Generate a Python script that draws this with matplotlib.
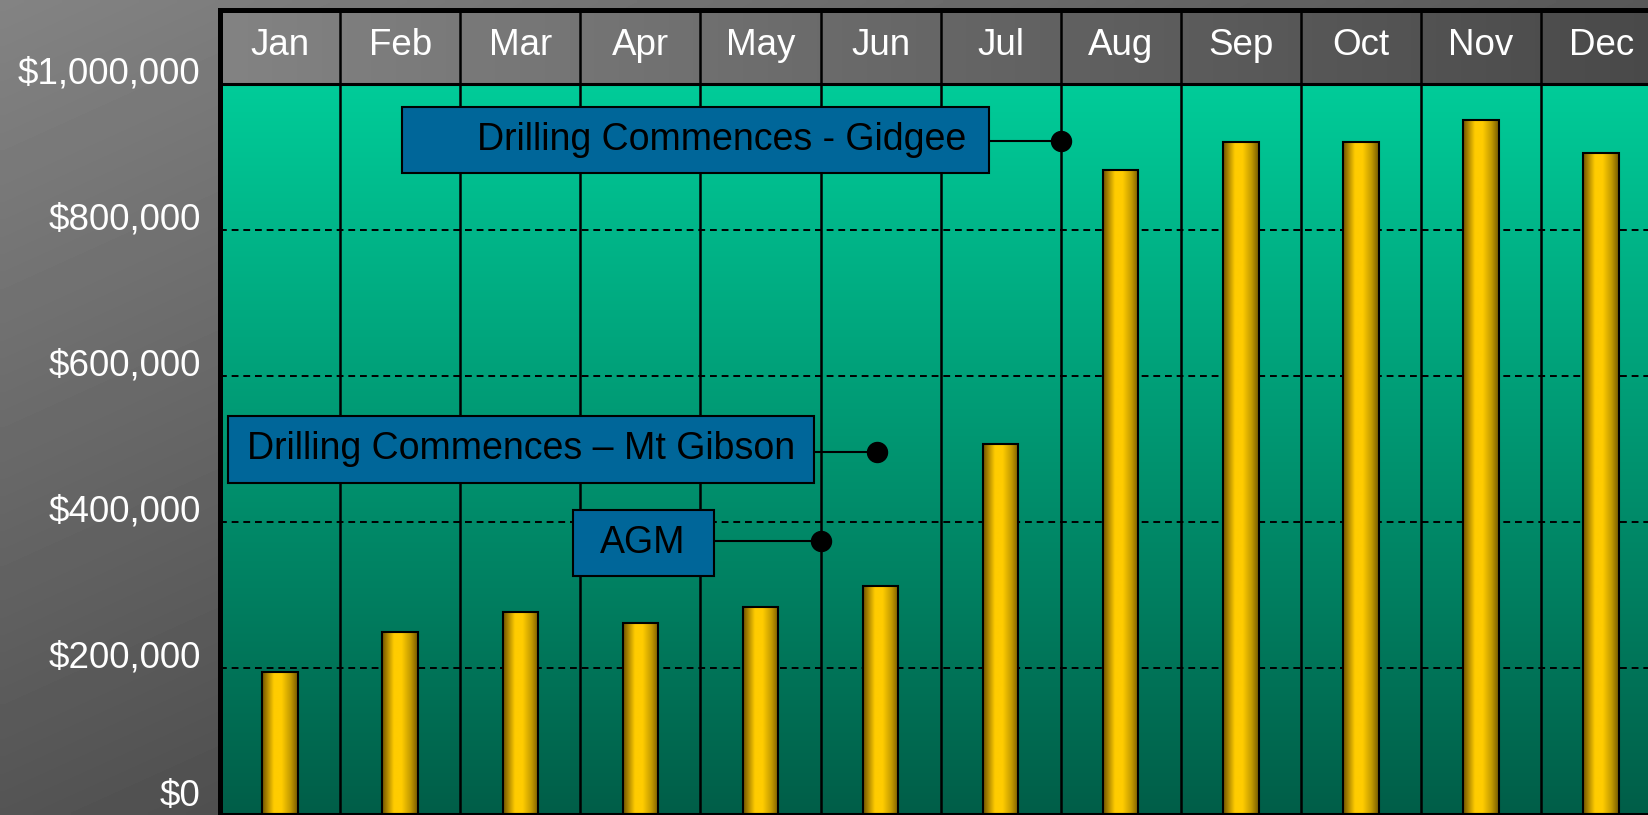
import numpy as np
import matplotlib.pyplot as plt
from matplotlib.colors import LinearSegmentedColormap
from matplotlib.patches import Rectangle

plt.rcParams['font.family'] = ['Liberation Sans', 'DejaVu Sans']

# data
months = ['Jan', 'Feb', 'Mar', 'Apr', 'May', 'Jun', 'Jul', 'Aug', 'Sep', 'Oct', 'Nov', 'Dec']
spend = [194500, 249000, 277000, 262000, 284000, 313000, 507500, 882000, 921000, 921000, 951000, 906000]
ytick_values = [0, 200000, 400000, 600000, 800000, 1000000]
ytick_labels = ['$0', '$200,000', '$400,000', '$600,000', '$800,000', '$1,000,000']

# milestones: label, position on month axis, value
event_labels = ['Drilling Commences - Gidgee', 'Drilling Commences \u2013 Mt Gibson', 'AGM']
event_x = [7.0, 5.47, 5.0]
event_y = [922000, 496000, 374000]

# callout box layout (x0, x1, y0, y1) and text x
box_geom = [(1.519, 6.399, 877400, 968500), (0.067, 4.947, 454100, 545200), (2.937, 4.117, 326000, 416800)]
text_x = [4.18, 2.505, 3.52]

fig = plt.figure(figsize=(16.48, 8.15), dpi=100)

# grey slide background
bg = fig.add_axes([0, 0, 1, 1], zorder=-10)
bg.axis('off')
yy, xx = np.mgrid[0:815:5, 0:1648:8]
val = (131 - 0.026 * xx - 0.0575 * yy) / 255.0
bg.imshow(val, cmap='gray', vmin=0, vmax=1, aspect='auto', interpolation='bilinear')

top = -1370 + 805.5 / 730 * 1e6
ax = fig.add_axes([220 / 1648, 0, 1441.2 / 1648, 805.5 / 815])
ax.set_facecolor('none')

# green plot gradient
g = np.linspace(0, 1, 256)
green = np.zeros((256, 1, 3))
green[:, 0, 1] = (204 - (204 - 94) * g) / 255
green[:, 0, 2] = (153 - (153 - 72) * g) / 255
ax.imshow(green, extent=[0, 12, 0, 1e6], aspect='auto', zorder=0, interpolation='bilinear')

# header gradient
hv = (131 - 58 * np.linspace(0, 1, 256)) / 255
header = np.dstack([hv, hv, hv]).reshape(1, 256, 3)
ax.imshow(header, extent=[0, 12, 1e6, top], aspect='auto', zorder=0, interpolation='bilinear')

for v in ytick_values[1:-1]:
    ax.axhline(v, color='black', lw=1.4, ls=(0, (3.5, 2.5)), zorder=1)
ax.vlines(range(1, 12), 0, top, color='black', lw=1.8, zorder=1.5)
ax.axhline(1e6, color='black', lw=2.2, zorder=1.5)
ax.axhline(0, color='black', lw=2.2, zorder=4)

for i, m in enumerate(months):
    ax.text(i + 0.5, 1.0397e6, m, ha='center', va='baseline', color='white', fontsize=26.5)

# gold cylinder bars
bar_cmap = LinearSegmentedColormap.from_list('gold', [(0, '#6e5200'), (0.33, '#ffcc00'), (0.55, '#ffcc00'),
                                                     (0.8, '#c29a00'), (1, '#765a00')])
bars = ax.bar(np.arange(12) + 0.5, spend, width=0.295, fill=False, edgecolor='black', linewidth=1.5, zorder=3.1)
grad = np.linspace(0, 1, 128)[None, :]
for b in bars:
    ax.imshow(grad, cmap=bar_cmap, extent=[b.get_x(), b.get_x() + b.get_width(), 0, b.get_height()],
              aspect='auto', zorder=3, interpolation='bilinear')

# milestone callouts
for lab, ex, ey, (x0, x1, y0, y1), tx in zip(event_labels, event_x, event_y, box_geom, text_x):
    ax.plot([x1, ex], [ey, ey], color='black', lw=1.5, zorder=4.5)
    ax.add_patch(Rectangle((x0, y0), x1 - x0, y1 - y0, fc='#006699', ec='black', lw=1.5, zorder=5))
    ax.text(tx, (y0 + y1) / 2, lab, ha='center', va='center', fontsize=27, color='black', zorder=6)
    ax.plot(ex, ey, 'o', ms=14.4, color='black', zorder=6)

ax.set_xlim(0, 12)
ax.set_ylim(-1370, top)
ax.set_xticks([])
ax.set_yticks(ytick_values)
ax.set_yticklabels(ytick_labels, va='baseline', color='white', fontsize=26.5)
ax.get_yticklabels()[0].set_va('bottom')
ax.tick_params(axis='y', length=0, pad=14)
for s in ['right', 'bottom']:
    ax.spines[s].set_visible(False)
for s in ['top', 'left']:
    ax.spines[s].set_linewidth(3.6)
    ax.spines[s].set_color('black')
    ax.spines[s].set_zorder(5)

fig.savefig('out.png', dpi=100)
